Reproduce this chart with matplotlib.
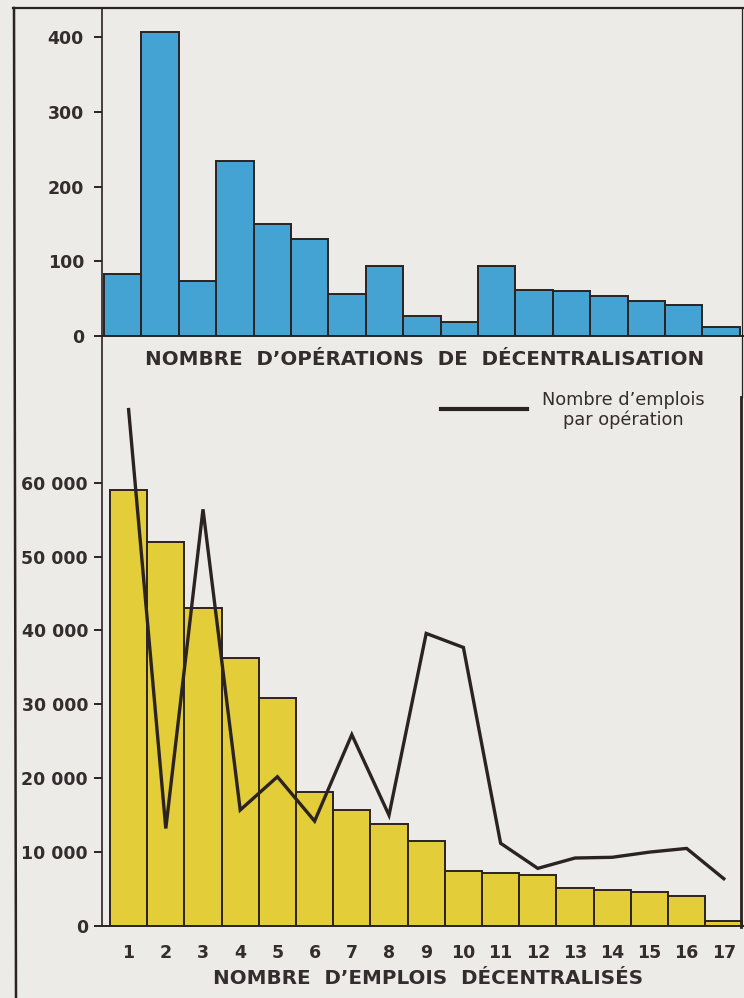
import matplotlib
matplotlib.use("Agg")
import matplotlib.pyplot as plt
from matplotlib.lines import Line2D

# Classes de taille (1 à 17)
classes = list(range(1, 18))
class_labels = [str(c) for c in classes]

# Nombre d'opérations de décentralisation par classe
operations = [83, 407, 74, 234, 150, 130, 56, 93, 27, 19, 93, 62, 60, 54, 47, 41, 12]

# Nombre d'emplois décentralisés par classe
emplois = [59000, 52000, 43000, 36300, 30800, 18100, 15700, 13800, 11500,
           7400, 7200, 6850, 5200, 4900, 4650, 4100, 700]

# Nombre d'emplois par opération (même échelle que les emplois)
emplois_par_op = [69900, 13200, 56400, 15700, 20200, 14200, 25900, 15000, 39600,
                  37700, 11200, 7800, 9200, 9300, 10000, 10500, 6400]

top_ticks = [0, 100, 200, 300, 400]
bottom_ticks = [0, 10000, 20000, 30000, 40000, 50000, 60000]
bottom_tick_labels = ["0", "10 000", "20 000", "30 000", "40 000", "50 000", "60 000"]

BG = "#ecebe8"
BLUE = "#45a3d3"
YELLOW = "#e3cd38"
INK = "#2b2222"
TXT = "#342d2d"

W, H = 744, 998
plt.rcParams["font.family"] = ["DejaVu Sans"]

fig = plt.figure(figsize=(W / 100, H / 100), dpi=100, facecolor=BG)


def fx(px):
    return px / W


def fy(py):
    return 1 - py / H


# ---- panneau supérieur : opérations ----
x0 = 102
top_base, top_top = 336, 9
ax1 = fig.add_axes([fx(x0), fy(top_base), fx(W) - fx(x0), (top_base - top_top) / H])
ax1.set_facecolor(BG)
ax1.bar(classes, operations, width=1.0, color=BLUE, edgecolor=INK, linewidth=1.4)
px_per_unit = 299 / 400
ax1.set_ylim(0, (top_base - top_top) / px_per_unit)
ppx = 37.4
ax1.set_xlim(0.5 - 2 / ppx, 0.5 - 2 / ppx + (W - x0) / ppx)
ax1.set_yticks(top_ticks)
ax1.set_xticks([])
for s in ["top", "right"]:
    ax1.spines[s].set_visible(False)
ax1.spines["left"].set_color(INK)
ax1.spines["left"].set_linewidth(1.2)
ax1.spines["bottom"].set_color(INK)
ax1.spines["bottom"].set_linewidth(1.4)
ax1.tick_params(axis="y", length=6, width=1.4, color=INK, pad=7,
                labelsize=12.5, labelcolor=TXT)
for t in ax1.get_yticklabels():
    t.set_fontweight("bold")

# ---- panneau inférieur : emplois ----
bot_base, bot_top = 926, 337
ax2 = fig.add_axes([fx(x0), fy(bot_base), fx(W) - fx(x0), (bot_base - bot_top) / H])
ax2.set_facecolor(BG)
ax2.bar(classes, emplois, width=1.0, color=YELLOW, edgecolor=INK, linewidth=1.4)
ax2.plot(classes, emplois_par_op, color=INK, linewidth=2.4, solid_joinstyle="miter")
px_per_val = 443.3 / 60000
ax2.set_ylim(0, (bot_base - bot_top) / px_per_val)
ppx2 = 37.2
xmin2 = 0.5 - 8 / ppx2
ax2.set_xlim(xmin2, xmin2 + (W - x0) / ppx2)
ax2.set_yticks(bottom_ticks)
ax2.set_yticklabels(bottom_tick_labels)
ax2.set_xticks(classes)
ax2.set_xticklabels(class_labels)
for s in ["top", "right"]:
    ax2.spines[s].set_visible(False)
ax2.spines["left"].set_color(INK)
ax2.spines["left"].set_linewidth(1.2)
ax2.spines["bottom"].set_color(INK)
ax2.spines["bottom"].set_linewidth(1.4)
ax2.tick_params(axis="y", length=6, width=1.4, color=INK, pad=4,
                labelsize=12.5, labelcolor=TXT)
ax2.tick_params(axis="x", length=0, pad=13, labelsize=12.5, labelcolor=TXT)
for t in ax2.get_yticklabels() + ax2.get_xticklabels():
    t.set_fontweight("bold")

# ---- titres des axes ----
fig.text(fx(425), fy(359), "NOMBRE  D’OPÉRATIONS  DE  DÉCENTRALISATION",
         ha="center", va="center", fontsize=14.3, fontweight="bold", color=TXT)
fig.text(fx(428), fy(978), "NOMBRE  D’EMPLOIS  DÉCENTRALISÉS",
         ha="center", va="center", fontsize=14.3, fontweight="bold", color=TXT)

# ---- légende ----
fig.add_artist(Line2D([fx(441), fx(527)], [fy(409), fy(409)], color=INK,
                      linewidth=3.0, transform=fig.transFigure))
fig.text(fx(623), fy(410), "Nombre d’emplois\npar opération", ha="center", va="center",
         fontsize=12.8, color=TXT, linespacing=1.1)

# ---- cadre ----
fig.add_artist(Line2D([fx(13), fx(W)], [fy(8), fy(8)], color=INK, linewidth=1.6,
                      transform=fig.transFigure))
fig.add_artist(Line2D([fx(14), fx(16)], [fy(8), fy(H)], color=INK, linewidth=1.8,
                      transform=fig.transFigure))
fig.add_artist(Line2D([fx(742), fx(742)], [fy(8), fy(397)], color=INK, linewidth=0.9,
                      transform=fig.transFigure))
fig.add_artist(Line2D([fx(740.5), fx(740.5)], [fy(397), fy(927)], color=INK, linewidth=2.0,
                      transform=fig.transFigure))

fig.savefig("out.png", dpi=100, facecolor=BG)
